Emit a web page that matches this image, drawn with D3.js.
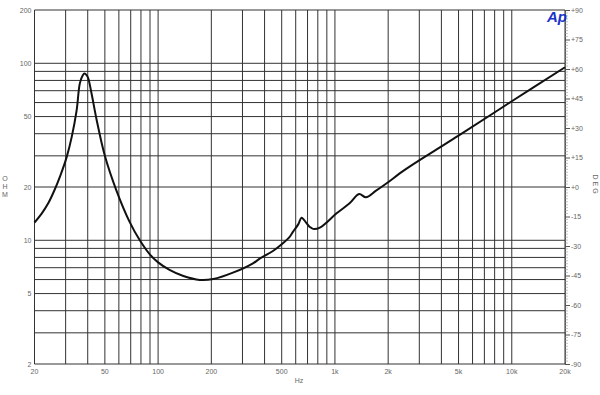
<!DOCTYPE html>
<html>
<head>
    <title>Impedance</title>
    <script src="https://d3js.org/d3.v7.min.js"></script>
    <style>
        body { margin: 0; background: #fff; }
        text { font-family: "Liberation Sans", Arial, sans-serif; }
    </style>
</head>
<body>
    <svg width="600" height="395"></svg>
    <script>
        // Impedance curve
        const freqs = [20, 22, 24, 26, 28, 30.4, 32.5, 34.6, 36.1, 37.5, 38.3, 39.5, 40.3, 42.1, 44.9, 50, 58, 69, 78.8, 90, 100, 116, 139, 172, 205, 265, 344, 377, 446, 500, 556, 580, 620, 647, 670, 690, 720, 752, 822, 1022, 1210, 1370, 1497, 1700, 1962, 2470, 3500, 5000, 10000, 20000];
        const ohms  = [12.6, 14.2, 16.3, 19.3, 23.2, 29.5, 38.5, 54, 77, 85.5, 87.5, 85.5, 82, 67, 48, 30, 19.2, 12.7, 10, 8.3, 7.5, 6.8, 6.28, 5.97, 6.04, 6.56, 7.41, 7.9, 8.7, 9.5, 10.5, 11.2, 12.3, 13.4, 13.0, 12.5, 11.9, 11.6, 11.8, 14.2, 16.2, 18.25, 17.5, 19, 21, 24.9, 31.2, 39, 61, 95];

        // grid and tick labels
        const freqGrid = [20, 30, 40, 50, 60, 70, 80, 90, 100, 200, 300, 400, 500, 600, 700, 800, 900, 1000, 2000, 3000, 4000, 5000, 6000, 7000, 8000, 9000, 10000, 20000];
        const freqLabels = [20, 50, 100, 200, 500, 1000, 2000, 5000, 10000, 20000];
        const freqNames = ["20", "50", "100", "200", "500", "1k", "2k", "5k", "10k", "20k"];
        const ohmGrid = [2, 3, 4, 5, 6, 7, 8, 9, 10, 20, 30, 40, 50, 60, 70, 80, 90, 100, 200];
        const ohmLabels = [2, 5, 10, 20, 50, 100, 200];
        const degLabels = [90, 75, 60, 45, 30, 15, 0, -15, -30, -45, -60, -75, -90];

        const plot = {left: 34.5, right: 565, top: 10, bottom: 364};
        const svg = d3.select("svg");

        const x = d3.scaleLog().domain([20, 20000]).range([plot.left, plot.right]);
        const y = d3.scaleLog().domain([2, 200]).range([plot.bottom, plot.top]);
        const deg = d3.scaleLinear().domain([-90, 90]).range([plot.bottom, plot.top]);

        // grid
        svg.append("g").selectAll("line")
            .data(freqGrid)
            .join("line")
            .attr("x1", d => x(d)).attr("x2", d => x(d))
            .attr("y1", plot.top).attr("y2", plot.bottom)
            .attr("stroke", "#333").attr("stroke-width", 1);
        svg.append("g").selectAll("line")
            .data(ohmGrid)
            .join("line")
            .attr("x1", plot.left).attr("x2", plot.right)
            .attr("y1", d => y(d)).attr("y2", d => y(d))
            .attr("stroke", "#333").attr("stroke-width", 1);

        // left labels
        svg.append("g").selectAll("text")
            .data(ohmLabels)
            .join("text")
            .attr("x", plot.left - 3)
            .attr("y", d => y(d) + 2.5)
            .attr("text-anchor", "end")
            .attr("font-size", 7)
            .attr("fill", "#666")
            .text(d => d);

        // bottom labels
        svg.append("g").selectAll("text")
            .data(freqLabels)
            .join("text")
            .attr("x", d => x(d))
            .attr("y", plot.bottom + 10)
            .attr("text-anchor", "middle")
            .attr("font-size", 7)
            .attr("fill", "#666")
            .text((d, i) => freqNames[i]);

        svg.append("text")
            .attr("x", 299).attr("y", 383)
            .attr("text-anchor", "middle")
            .attr("font-size", 7).attr("fill", "#666")
            .text("Hz");

        // OHM stacked
        svg.append("g").selectAll("text")
            .data(["O", "H", "M"])
            .join("text")
            .attr("x", 5)
            .attr("y", (d, i) => 181 + i * 8)
            .attr("text-anchor", "middle")
            .attr("font-size", 7)
            .attr("fill", "#666")
            .text(d => d);

        // right phase axis
        const degAxis = d3.axisRight(deg)
            .tickValues(degLabels)
            .tickSize(5)
            .tickFormat(d => (d >= 0 ? "+" : "") + d);
        const ga = svg.append("g")
            .attr("transform", `translate(${plot.right},0)`)
            .call(degAxis);
        ga.select(".domain").attr("stroke", "#555");
        ga.selectAll(".tick line").attr("stroke", "#555");
        ga.selectAll(".tick text")
            .attr("font-size", 7)
            .attr("fill", "#666")
            .attr("x", 6)
            .attr("font-family", "Liberation Sans, Arial, sans-serif");

        const minor = d3.range(-90, 90.01, 1.5).filter(d => d % 15 !== 0);
        svg.append("g").selectAll("line")
            .data(minor)
            .join("line")
            .attr("x1", plot.right).attr("x2", plot.right + 3)
            .attr("y1", d => deg(d)).attr("y2", d => deg(d))
            .attr("stroke", "#999").attr("stroke-width", 0.6);

        svg.append("text")
            .attr("transform", "translate(593,185) rotate(90)")
            .attr("text-anchor", "middle")
            .attr("font-size", 7)
            .attr("fill", "#666")
            .attr("letter-spacing", 2)
            .text("DEG");

        // Ap logo
        svg.append("text")
            .attr("x", 547).attr("y", 22)
            .attr("font-size", 15)
            .attr("font-weight", "bold")
            .attr("font-style", "italic")
            .attr("fill", "#1a33c9")
            .text("Ap");

        // impedance curve
        const pts = freqs.map((f, i) => [f, ohms[i]]);
        const line = d3.line()
            .x(d => x(d[0]))
            .y(d => y(d[1]))
            .curve(d3.curveCatmullRom.alpha(0.5));
        svg.append("path")
            .datum(pts)
            .attr("d", line)
            .attr("fill", "none")
            .attr("stroke", "#111")
            .attr("stroke-width", 2);
    </script>
</body>
</html>
